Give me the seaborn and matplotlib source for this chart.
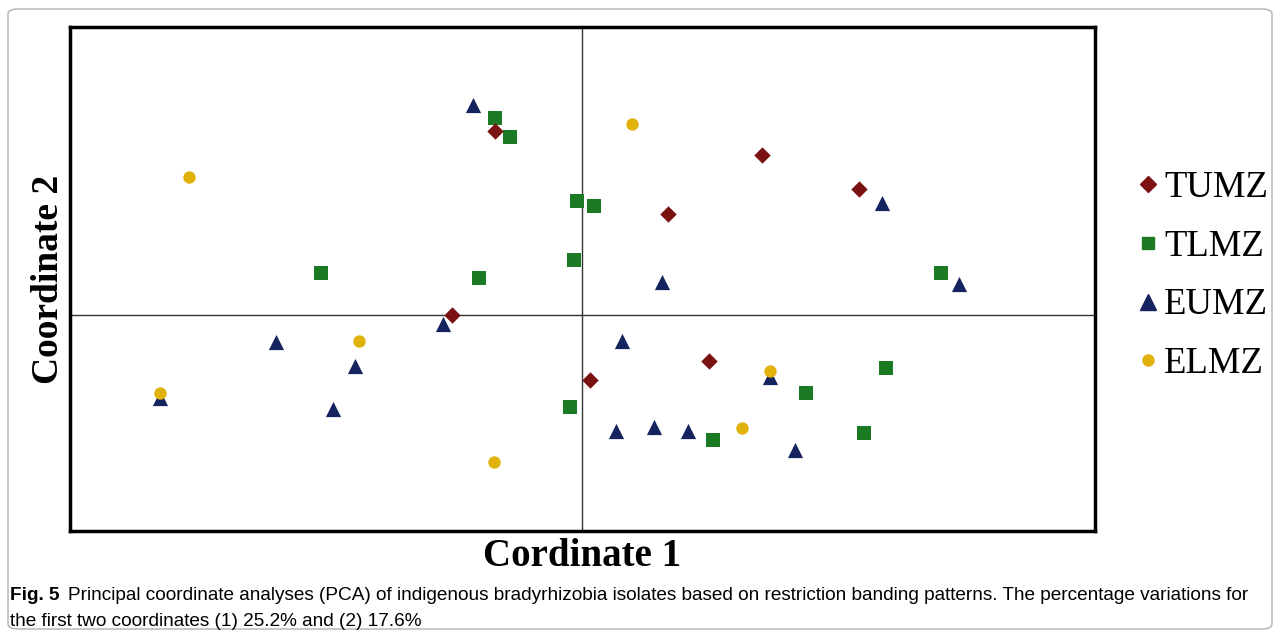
import pandas as pd
import seaborn as sns
import matplotlib.pyplot as plt
from matplotlib.lines import Line2D
from matplotlib.patches import FancyBboxPatch

# coordinates
tumz_x = [-0.87, 1.80, 2.77, 0.86, -1.30, 1.27, 0.08]
tumz_y = [1.84, 1.60, 1.26, 1.01, 0.00, -0.46, -0.65]

tlmz_x = [-0.87, -0.72, -0.05, 0.12, -0.08, -2.61, -1.03, 3.59, 3.04, 2.24, -0.12, 1.31, 2.82]
tlmz_y = [1.97, 1.78, 1.14, 1.09, 0.55, 0.42, 0.37, 0.42, -0.53, -0.78, -0.92, -1.25, -1.18]

eumz_x = [-1.09, 3.00, 3.77, 0.80, -1.39, -3.06, -2.27, 0.40, -2.49, 0.34, 0.72, 1.06, 2.13, -4.22, 1.88]
eumz_y = [2.10, 1.12, 0.31, 0.33, -0.09, -0.27, -0.51, -0.26, -0.94, -1.16, -1.12, -1.16, -1.35, -0.83, -0.62]

elmz_x = [-3.93, 0.50, -2.23, -4.22, 1.88, 1.60, -0.88]
elmz_y = [1.38, 1.91, -0.26, -0.78, -0.56, -1.13, -1.47]

groups = ['TUMZ', 'TLMZ', 'EUMZ', 'ELMZ']
colors = {'TUMZ': '#7a1212', 'TLMZ': '#1c7a22', 'EUMZ': '#15235e', 'ELMZ': '#e1b20c'}
markers = {'TUMZ': 'D', 'TLMZ': 's', 'EUMZ': '^', 'ELMZ': 'o'}
sizes = {'TUMZ': 70, 'TLMZ': 100, 'EUMZ': 120, 'ELMZ': 80}

df = pd.concat([
    pd.DataFrame({'x': tumz_x, 'y': tumz_y, 'group': 'TUMZ'}),
    pd.DataFrame({'x': tlmz_x, 'y': tlmz_y, 'group': 'TLMZ'}),
    pd.DataFrame({'x': eumz_x, 'y': eumz_y, 'group': 'EUMZ'}),
    pd.DataFrame({'x': elmz_x, 'y': elmz_y, 'group': 'ELMZ'}),
])

sns.set_style('white')
plt.rcParams['text.color'] = 'black'
plt.rcParams['axes.labelcolor'] = 'black'
fig = plt.figure(figsize=(12.81, 6.39), dpi=100)
ax = fig.add_axes([70 / 1281, 1 - 531 / 639, 1025 / 1281, 504 / 639])

for g in ['EUMZ', 'TLMZ', 'TUMZ', 'ELMZ']:
    sns.scatterplot(data=df[df['group'] == g], x='x', y='y', color=colors[g],
                    marker=markers[g], s=sizes[g], linewidth=0, ax=ax, legend=False, zorder=3)

ax.axhline(0, color='#333333', lw=1, zorder=1)
ax.axvline(0, color='#333333', lw=1, zorder=1)
ax.set_xlim(-5.12, 5.13)
ax.set_ylim(-2.16, 2.88)
ax.set_xticks([])
ax.set_yticks([])
for sp in ax.spines.values():
    sp.set_color('black')
    sp.set_linewidth(2.5)

ax.set_xlabel('Cordinate 1', family='Liberation Serif', fontweight='bold', fontsize=28, labelpad=5)
ax.set_ylabel('Coordinate 2', family='Liberation Serif', fontweight='bold', fontsize=27, labelpad=3)

handles = [Line2D([], [], ls='', marker=markers[g], color=colors[g],
                  markersize={'TUMZ': 8, 'TLMZ': 9, 'EUMZ': 11, 'ELMZ': 8}[g]) for g in groups]
fig.legend(handles, groups, loc='upper left', bbox_to_anchor=(1120 / 1281, 1 - 152 / 639),
           frameon=False, prop={'family': 'Liberation Serif', 'size': 26.5},
           handlelength=0.5, handletextpad=0.2, labelspacing=0.66, borderpad=0)

# caption
fig.patches.append(FancyBboxPatch((8 / 1281, 10 / 639), 1264 / 1281, 620 / 639,
                                  boxstyle='round,pad=0,rounding_size=0.008',
                                  transform=fig.transFigure, fill=False,
                                  edgecolor='#b0b0b0', lw=1))
t1 = fig.text(10 / 1281, 1 - 596 / 639, 'Fig. 5', family='Liberation Sans', fontweight='bold',
              fontsize=13.7, va='center')
fig.canvas.draw()
bb = t1.get_window_extent()
fig.text((bb.x1 + 8) / 1281, 1 - 596 / 639,
         'Principal coordinate analyses (PCA) of indigenous bradyrhizobia isolates based on restriction banding patterns. The percentage variations for',
         family='Liberation Sans', fontsize=13.7, va='center')
fig.text(10 / 1281, 1 - 622 / 639, 'the first two coordinates (1) 25.2% and (2) 17.6%',
         family='Liberation Sans', fontsize=13.7, va='center')

fig.savefig('out.png', dpi=100)
